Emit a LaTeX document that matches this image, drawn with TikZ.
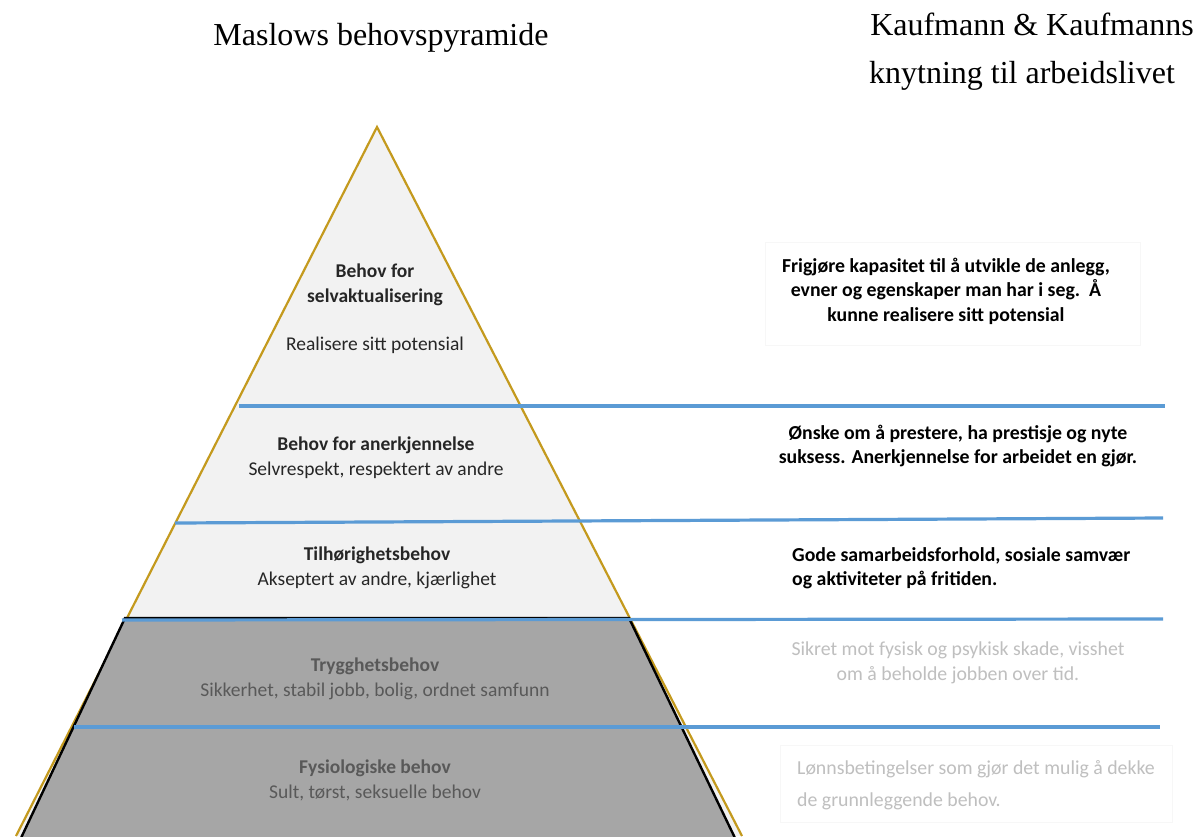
\documentclass[tikz,border=0pt]{standalone}
\usepackage{fontspec}
\setmainfont{Liberation Serif}
\newfontfamily\carlito{Carlito}
\definecolor{goldc}{HTML}{C49A1E}
\definecolor{bluec}{HTML}{5B9BD5}
\definecolor{lightfill}{HTML}{F2F2F2}
\definecolor{darkfill}{HTML}{A6A6A6}
\definecolor{txtdark}{HTML}{262626}
\definecolor{txtmid}{HTML}{595959}
\definecolor{txtlight}{HTML}{BFBFBF}
\begin{document}
\begin{tikzpicture}[x=1pt,y=-1pt,
  title/.style={font=\fontsize{32}{38}\selectfont, inner sep=0pt},
  pyr/.style={font=\carlito\fontsize{19.5}{25}\selectfont, align=center, inner sep=0pt, text=txtdark},
  pyrb/.style={pyr, font=\carlito\bfseries\fontsize{19.5}{25.5}\selectfont},
  rtxt/.style={font=\carlito\bfseries\fontsize{19.8}{24.5}\selectfont, inner sep=0pt, text=black},
  rlight/.style={font=\carlito\fontsize{19.8}{25}\selectfont, inner sep=0pt, text=txtlight},
  bline/.style={draw=bluec, line width=3.2pt},
  faint/.style={draw=black!3, line width=0.6pt}
]
\useasboundingbox (0,0) rectangle (1203,836);
\fill[white] (0,0) rectangle (1203,836);

% pyramid
\coordinate (apex) at (377,127);
\coordinate (bl) at (16,836);
\coordinate (br) at (742,836);
\fill[lightfill] (apex) -- (br) -- (bl) -- cycle;
\draw[goldc, line width=2.2pt, line join=miter] (bl) -- (apex) -- (br);

% dark trapezoid
\coordinate (tl) at (125,618);
\coordinate (tr) at (629,618);
\coordinate (dl) at (21,838);
\coordinate (dr) at (735,838);
\fill[darkfill] (dl) -- (tl) -- (tr) -- (dr) -- cycle;
\draw[black, line width=2.4pt] (dl) -- (tl) -- (tr) -- (dr);

% faint boxes
\draw[faint] (765,242) rectangle (1140,345);
\draw[faint] (780,745) rectangle (1172,822);

% blue lines
\coordinate (b1a) at (239,406); \coordinate (b1b) at (1165,406);
\coordinate (b2a) at (175,523); \coordinate (b2b) at (1163,518);
\coordinate (b3a) at (122,620); \coordinate (b3b) at (1163,619);
\coordinate (b4a) at (74,727);  \coordinate (b4b) at (1160,727);
\draw[bline] (b1a) -- (b1b);
\draw[bline] (b2a) -- (b2b);
\draw[bline] (b3a) -- (b3b);
\draw[bline] (b4a) -- (b4b);

% titles
\node[title] (t1) at (381,38) {Maslows behovspyramide};
\node[title] (t2) at (1032,24) {Kaufmann \& Kaufmanns};
\node[title] (t3) at (1022,76) {knytning til arbeidslivet};

% pyramid texts
\node[pyrb] (p1) at (375,285) {Behov for\\selvaktualisering};
\node[pyr] (p1s) at (375,345) {Realisere sitt potensial};
\node[pyrb] (p2) at (376,445) {Behov for anerkjennelse};
\node[pyr] (p2s) at (376,470) {Selvrespekt, respektert av andre};
\node[pyrb] (p3) at (377,555) {Tilhørighetsbehov};
\node[pyr] (p3s) at (377,580) {Akseptert av andre, kjærlighet};
\node[pyrb, text=txtmid] (p4) at (375,666) {Trygghetsbehov};
\node[pyr, text=txtmid] (p4s) at (375,691) {Sikkerhet, stabil jobb, bolig, ordnet samfunn};
\node[pyrb, text=txtmid] (p5) at (375,768) {Fysiologiske behov};
\node[pyr, text=txtmid] (p5s) at (375,793) {Sult, tørst, seksuelle behov};

% right texts
\node[rtxt, align=center] (r1) at (946,291) {Frigjøre kapasitet til å utvikle de anlegg,\\evner og egenskaper man har i seg.\ \ Å\\kunne realisere sitt potensial};
\node[rtxt, align=center] (r2) at (958,446) {Ønske om å prestere, ha prestisje og nyte\\suksess. Anerkjennelse for arbeidet en gjør.};
\node[rtxt, align=left, anchor=west] (r3) at (792,568) {Gode samarbeidsforhold, sosiale samvær\\og aktiviteter på fritiden.};
\node[rlight, align=center] (r4) at (958,663) {Sikret mot fysisk og psykisk skade, visshet\\om å beholde jobben over tid.};
\node[rlight, align=left, anchor=west, font=\carlito\fontsize{19.8}{32}\selectfont] (r5) at (797,785) {Lønnsbetingelser som gjør det mulig å dekke\\de grunnleggende behov.};
\end{tikzpicture}
\end{document}
